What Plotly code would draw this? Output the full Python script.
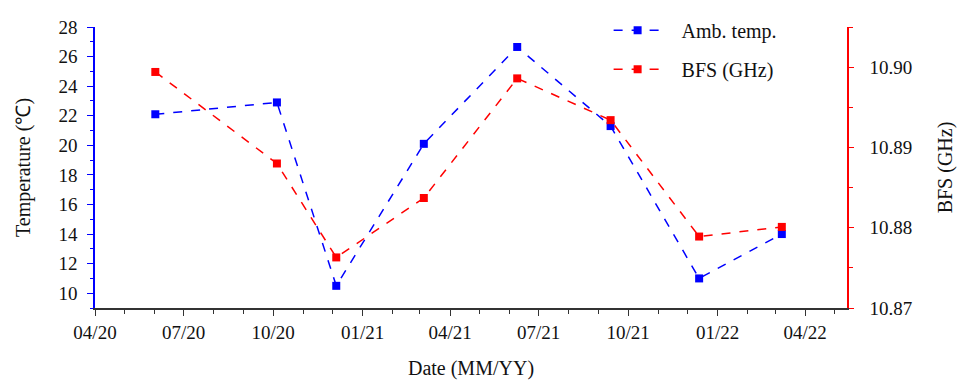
import plotly.graph_objects as go

dates = ["2020-06-02", "2020-10-05", "2020-12-05", "2021-03-05",
         "2021-06-09", "2021-09-13", "2021-12-13", "2022-03-08"]
temp = [22.1, 22.9, 10.5, 20.1, 26.65, 21.3, 11.0, 14.0]
bfs = [10.8994, 10.8880, 10.8763, 10.8837, 10.8986, 10.8934, 10.8789, 10.8801]
names = ["Amb. temp.", "BFS (GHz)"]

FONT = "Liberation Serif"
TICK = dict(family=FONT, size=19, color="#111")
TITLE = dict(family=FONT, size=20, color="#111")
PAD = "\u00a0\u00a0\u00a0"
fig = go.Figure()
fig.add_trace(go.Scatter(
    x=dates, y=temp, name=PAD + names[0], mode="lines+markers",
    line=dict(color="#0000ff", width=1.5, dash="dash"),
    marker=dict(symbol="square", size=8, color="#0000ff"),
    legendgroup="a", yaxis="y"))
fig.add_trace(go.Scatter(
    x=dates, y=bfs, name=PAD + names[1], mode="lines+markers",
    line=dict(color="#ff0000", width=1.5, dash="dash"),
    marker=dict(symbol="square", size=8, color="#ff0000"),
    legendgroup="b", yaxis="y2"))

fig.update_layout(
    width=957, height=380,
    margin=dict(l=95, r=110, t=27, b=72, autoexpand=False),
    paper_bgcolor="white", plot_bgcolor="white",
    font=dict(family=FONT, size=18, color="#111"),
    showlegend=True,
    legend=dict(x=0.683, y=0.972, yref="container", xanchor="left", yanchor="top",
                bgcolor="rgba(0,0,0,0)", tracegroupgap=10,
                font=dict(family=FONT, size=20, color="#111"), itemwidth=48),
    xaxis=dict(
        type="date", range=["2020-04-01", "2022-05-14"],
        tick0="2020-04-01", dtick="M3", tickformat="%m/%y",
        showgrid=False, zeroline=False, automargin=False,
        showline=True, linecolor="#333", linewidth=1.5,
        ticks="outside", ticklen=6, tickcolor="#333", tickwidth=1.2,
        tickfont=TICK,
        minor=dict(dtick="M1", ticks="outside", ticklen=4, tickcolor="#333", showgrid=False),
        title=dict(text="Date (MM/YY)", standoff=24, font=TITLE),
    ),
    yaxis=dict(
        range=[9, 28], tick0=10, dtick=2,
        showgrid=False, zeroline=False, automargin=False,
        showline=True, linecolor="#0000ff", linewidth=1.5,
        ticks="outside", ticklen=6, tickcolor="#0000ff", tickwidth=1.2,
        tickfont=TICK, ticklabelstandoff=6,
        minor=dict(dtick=1, tick0=9, ticks="outside", ticklen=3, tickcolor="#0000ff", showgrid=False),
        title=dict(text="Temperature (℃)", standoff=22, font=TITLE),
    ),
    yaxis2=dict(
        overlaying="y", side="right",
        range=[10.87, 10.905], tick0=10.87, dtick=0.01, tickformat=".2f",
        showgrid=False, zeroline=False, automargin=False,
        showline=True, linecolor="#ff0000", linewidth=1.5,
        ticks="outside", ticklen=5, tickcolor="#ff0000", tickwidth=1.2,
        tickfont=TICK, ticklabelstandoff=12,
        minor=dict(dtick=0.005, ticks="outside", ticklen=4, tickcolor="#ff0000", showgrid=False),
        title=dict(text="BFS (GHz)", standoff=28, font=TITLE),
    ),
)
fig.write_html("out.html")
